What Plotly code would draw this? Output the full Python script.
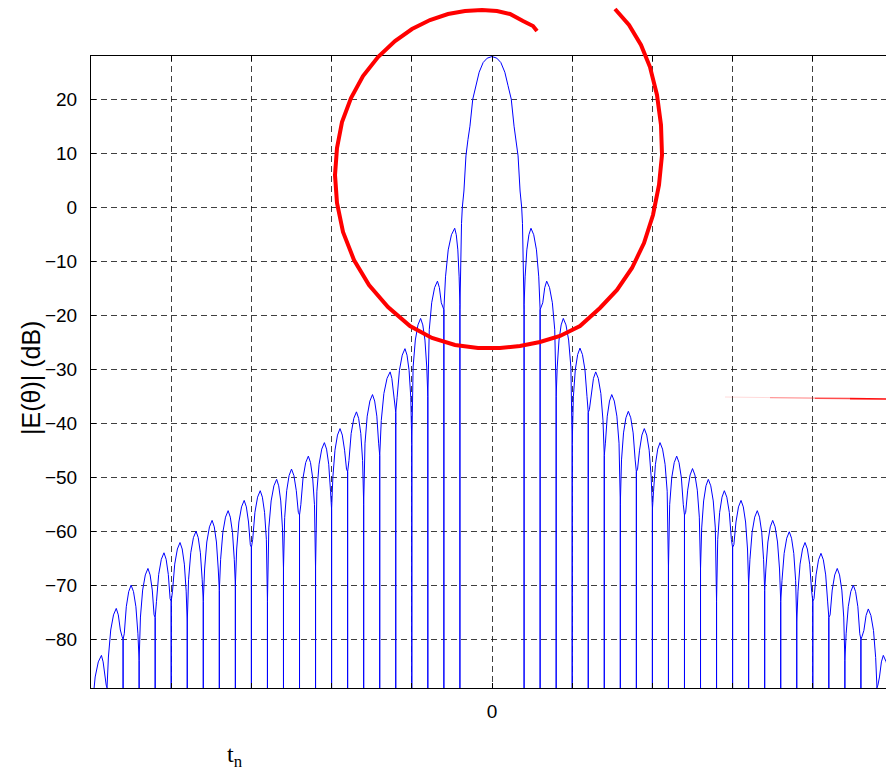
import plotly.graph_objects as go

# ---------------- data ----------------
# x in grid units (one dashed grid cell = 1, boresight = 0); levels in dB
left_null_x = [-5.0, -4.8, -4.6, -4.4, -4.2, -4.0, -3.8, -3.6, -3.4, -3.2, -3.0, -2.8,
               -2.6, -2.4, -2.2, -2.0, -1.8, -1.6, -1.4, -1.2, -1.0, -0.8, -0.6, -0.4]
left_null_db = [-95, -89, -80, -84, -76, -73, -77, -73, -71, -70, -63, -73,
                -67, -57, -67, -56, -49, -55, -46, -38, -44, -35, -19, -18]
left_peak_x = [-4.87, -4.685, -4.50, -4.29, -4.09, -3.89, -3.69, -3.49, -3.29, -3.09, -2.89, -2.685,
               -2.50, -2.29, -2.09, -1.895, -1.69, -1.49, -1.27, -1.085, -0.89, -0.68, -0.465]
left_peak_db = [-83.0, -74.3, -70.0, -66.9, -64.0, -62.1, -60.0, -58.0, -56.2, -54.3, -52.5, -50.4,
                -48.5, -46.1, -43.6, -41.0, -37.9, -34.7, -30.5, -26.2, -20.6, -13.7, -3.9]

main_x = [-0.40, -0.38, -0.37, -0.35, -0.325, -0.30, -0.275, -0.24, -0.20, -0.16, -0.11, -0.06, 0.0,
          0.06, 0.11, 0.16, 0.20, 0.24, 0.275, 0.30, 0.325, 0.35, 0.37, 0.38, 0.40]
main_db = [-19, -3, 0, 3, 9.5, 12.5, 15, 20, 22.5, 25, 26.8, 27.6, 27.9,
           27.6, 26.8, 25, 22.5, 20, 15, 12.5, 9.5, 3, 0, -3, -19]

right_null_x = [0.4, 0.6, 0.8, 1.0, 1.2, 1.4, 1.6, 1.8, 2.0, 2.2, 2.4, 2.6,
                2.8, 3.0, 3.2, 3.4, 3.6, 3.8, 4.0, 4.2, 4.4, 4.6, 4.8, 5.0]
right_null_db = [-18, -19, -35, -44, -38, -46, -55, -49, -56, -67, -57, -67,
                 -73, -63, -70, -71, -73, -77, -73, -76, -84, -80, -89, -95]
right_peak_x = [0.486, 0.682, 0.889, 1.097, 1.293, 1.493, 1.70, 1.899, 2.095, 2.303, 2.50, 2.697,
                2.897, 3.105, 3.308, 3.50, 3.707, 3.903, 4.102, 4.305, 4.505, 4.692, 4.879]
right_peak_db = [-3.9, -13.7, -20.6, -26.1, -30.5, -34.7, -37.8, -41.0, -43.6, -46.1, -48.4, -50.4,
                 -52.5, -54.3, -56.2, -58.0, -60.1, -62.1, -64.1, -66.9, -70.0, -74.4, -83.0]

y_tick_vals = [20, 10, 0, -10, -20, -30, -40, -50, -60, -70, -80]
x_grid_vals = [-5, -4, -3, -2, -1, 0, 1, 2, 3, 4, 5]
x_tick_text = ["", "", "", "", "", "0", "", "", "", "", ""]

# ---------------- styling / geometry constants ----------------
FLOOR = -130.0                        # nulls run off the bottom of the axes
DOME = [(0.85, 9.0), (0.6, 4.0), (0.3, 1.2)]   # lobe profile: (fraction toward null, drop dB)
W, H = 886, 774
L, R, T, B = 91, 0, 56, 86
PX_PER_UNIT = 80.2
X0_PX = 492.0
X_RANGE = [-5.0, (W - R - X0_PX) / PX_PER_UNIT]
Y_RANGE = [-89.04, 28.0]


def lobe(nl, nr, dl, dr, px, pdb):
    xs, ys = [nl, nl], [FLOOR, dl]
    for f, drop in DOME:
        xs.append(px - f * (px - nl))
        ys.append(max(pdb - drop, dl + 0.5))
    xs.append(px)
    ys.append(pdb)
    for f, drop in reversed(DOME):
        xs.append(px + f * (nr - px))
        ys.append(max(pdb - drop, dr + 0.5))
    xs += [nr, nr]
    ys += [dr, FLOOR]
    return xs, ys


curve_x, curve_y = [], []
for i in range(len(left_peak_x)):
    a, b = lobe(left_null_x[i], left_null_x[i + 1], left_null_db[i], left_null_db[i + 1],
                left_peak_x[i], left_peak_db[i])
    curve_x += a
    curve_y += b
curve_x += [main_x[0]] + main_x + [main_x[-1]]
curve_y += [FLOOR] + main_db + [FLOOR]
for i in range(len(right_peak_x)):
    a, b = lobe(right_null_x[i], right_null_x[i + 1], right_null_db[i], right_null_db[i + 1],
                right_peak_x[i], right_peak_db[i])
    curve_x += a
    curve_y += b

fig = go.Figure()
fig.add_trace(go.Scatter(x=curve_x, y=curve_y, mode="lines",
                         line=dict(color="#0000ff", width=1), hoverinfo="skip"))

grid_color = "rgba(0,0,0,0.75)"
fig.update_xaxes(range=X_RANGE, tickmode="array", tickvals=x_grid_vals, ticktext=x_tick_text,
                 showgrid=True, gridcolor=grid_color, gridwidth=1, griddash="6px,4px",
                 zeroline=False, showline=True, linecolor="black", linewidth=1,
                 mirror="ticks", ticks="inside", ticklen=5, tickcolor="black",
                 ticklabelstandoff=6, tickfont=dict(size=19))
fig.update_yaxes(range=Y_RANGE, tickmode="array", tickvals=y_tick_vals,
                 showgrid=True, gridcolor=grid_color, gridwidth=1, griddash="6px,4px",
                 zeroline=False, showline=True, linecolor="black", linewidth=1,
                 mirror=False, ticks="inside", ticklen=5, tickcolor="black",
                 ticklabelstandoff=9, tickfont=dict(size=19))


def to_paper(px, py):
    return (px - L) / (W - L - R), (H - B - py) / (H - T - B)


# hand-drawn red circle (page pixels)
circle_px = [(537, 31), (533, 26), (523, 21), (510, 14), (497, 11), (482, 10), (465, 11), (448, 14),
             (430, 20), (412, 29), (395, 41), (378, 57), (363, 76), (351, 98), (342, 122), (337, 148),
             (335, 175), (337, 203), (343, 232), (354, 260), (369, 285), (388, 307), (410, 326),
             (432, 338), (455, 345), (478, 348), (500, 348), (520, 346), (540, 342), (560, 336),
             (580, 326), (600, 308), (617, 290), (632, 268), (644, 243), (653, 215), (659, 185),
             (662, 155), (661, 125), (657, 95), (650, 67), (641, 45), (629, 25), (615, 9)]
pts = [to_paper(*p) for p in circle_px]
path = "M " + " L ".join(f"{x:.5f},{y:.5f}" for x, y in pts)
shapes = [dict(type="path", path=path, xref="paper", yref="paper",
               line=dict(color="#ff0000", width=4), layer="above")]

# thin red stroke at the right (fades to the left)
for (x1, x2, y1, y2, c, w) in [(725, 770, 397.0, 397.6, "rgba(255,0,0,0.15)", 1),
                               (770, 815, 397.6, 398.2, "rgba(255,0,0,0.4)", 1.2),
                               (815, 850, 398.2, 398.6, "rgba(255,0,0,0.7)", 1.5),
                               (850, 886, 398.6, 399.0, "rgba(255,0,0,0.95)", 1.7)]:
    a = to_paper(x1, y1)
    b = to_paper(x2, y2)
    shapes.append(dict(type="line", xref="paper", yref="paper", x0=a[0], y0=a[1], x1=b[0], y1=b[1],
                       line=dict(color=c, width=w), layer="above"))

ylab = to_paper(31, 378)
tn = to_paper(235, 756)
annotations = [
    dict(text="|E(θ)| (dB)", xref="paper", yref="paper", x=ylab[0], y=ylab[1], showarrow=False,
         textangle=-90, font=dict(size=25, color="black", family="Liberation Sans, Arial"),
         xanchor="center", yanchor="middle"),
    dict(text="t<sub>n</sub>", xref="paper", yref="paper", x=tn[0], y=tn[1], showarrow=False,
         font=dict(size=24, color="black", family="Liberation Serif, Times New Roman"),
         xanchor="center", yanchor="middle"),
]

fig.update_layout(width=W, height=H, margin=dict(l=L, r=R, t=T, b=B, pad=0),
                  paper_bgcolor="white", plot_bgcolor="white", showlegend=False,
                  font=dict(family="Liberation Sans, Arial", size=19, color="black"),
                  shapes=shapes, annotations=annotations)

fig.write_html("out.html", config={"displayModeBar": False},
               post_script="document.body.style.margin='0';")
